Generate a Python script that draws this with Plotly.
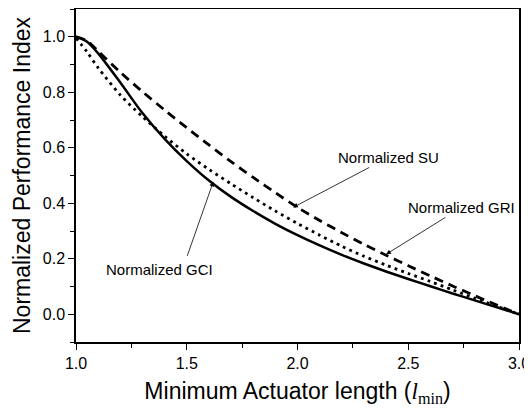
import plotly.graph_objects as go

x_vals = [1.0, 1.05, 1.1, 1.2, 1.3, 1.4, 1.5, 1.6, 1.7, 1.8, 1.9, 2.0,
          2.1, 2.2, 2.3, 2.4, 2.5, 2.6, 2.7, 2.8, 2.9, 3.0]
gci = [1.0, 0.982, 0.940, 0.835, 0.725, 0.632, 0.552, 0.482, 0.423, 0.372, 0.326, 0.285,
       0.248, 0.214, 0.183, 0.154, 0.127, 0.101, 0.075, 0.050, 0.025, 0.0]
gri = [0.995, 0.945, 0.888, 0.790, 0.712, 0.642, 0.578, 0.522, 0.470, 0.420, 0.372, 0.327,
       0.285, 0.245, 0.209, 0.177, 0.147, 0.118, 0.088, 0.058, 0.029, 0.0]
su = [1.0, 0.985, 0.948, 0.872, 0.802, 0.736, 0.672, 0.610, 0.550, 0.493, 0.438, 0.385,
      0.338, 0.294, 0.252, 0.213, 0.175, 0.138, 0.102, 0.067, 0.033, 0.0]

x_ticks = [1.0, 1.5, 2.0, 2.5, 3.0]
y_ticks = [0.0, 0.2, 0.4, 0.6, 0.8, 1.0]

fig = go.Figure()
fig.add_trace(go.Scatter(x=x_vals, y=gci, mode="lines",
                         line=dict(color="black", width=2.5, shape="spline", smoothing=0.8), name="GCI"))
fig.add_trace(go.Scatter(x=x_vals, y=gri, mode="lines",
                         line=dict(color="black", width=2.8, dash="2.8px,4.2px", shape="spline", smoothing=0.8), name="GRI"))
fig.add_trace(go.Scatter(x=x_vals, y=su, mode="lines",
                         line=dict(color="black", width=2.8, dash="9px,6px", shape="spline", smoothing=0.8), name="SU"))

lab_font = dict(family="Liberation Sans, Arial", size=15, color="black")
arrow_style = dict(showarrow=True, arrowhead=2, arrowsize=1.2, arrowwidth=0.8, arrowcolor="black")

# labels whose arrows leave the text box: (text, text x, text y, head x, head y)
attached = [
    ("Normalized SU", 2.41, 0.565, 1.98, 0.385),
    ("Normalized GRI", 2.74, 0.385, 2.40, 0.216),
]
for txt, tx, ty, hx, hy in attached:
    fig.add_annotation(x=hx, y=hy, ax=tx, ay=ty, axref="x", ayref="y", text=txt,
                       font=lab_font, **arrow_style)

# GCI label with an arrow that starts above its right part
fig.add_annotation(x=1.375, y=0.16, text="Normalized GCI", showarrow=False, font=lab_font)
fig.add_annotation(x=1.62, y=0.478, ax=1.50, ay=0.205, axref="x", ayref="y", text="",
                   **arrow_style)

axis_common = dict(showline=True, linecolor="black", linewidth=1.5, mirror=True,
                   ticks="outside", ticklen=6, tickwidth=1.2, tickcolor="black",
                   showgrid=False, zeroline=False, automargin=False,
                   tickfont=dict(family="Liberation Sans, Arial", size=16, color="black"))

x_title = ("Minimum Actuator length (<span style=\"font-family:'Liberation Serif'\">"
           "<i>l</i><sub>min</sub></span>)")

fig.update_xaxes(range=[1.0, 3.0], tickvals=x_ticks, ticktext=[f"{v:.1f}" for v in x_ticks],
                 minor=dict(ticks="outside", ticklen=4, dtick=0.25, tickcolor="black"),
                 title=dict(text=x_title,
                            font=dict(family="Liberation Sans, Arial", size=23, color="black"), standoff=12),
                 **axis_common)
fig.update_yaxes(range=[-0.1, 1.1], tickvals=y_ticks, ticktext=[f"{v:.1f}" for v in y_ticks],
                 minor=dict(ticks="outside", ticklen=4, dtick=0.1, tickcolor="black"),
                 title=dict(text="Normalized Performance Index",
                            font=dict(family="Liberation Sans, Arial", size=23, color="black"), standoff=6),
                 **axis_common)

# page body keeps a default 8px margin, so the figure is shrunk by 8px and margins offset
fig.update_layout(width=524, height=402, margin=dict(l=68, r=13, t=1, b=68),
                  plot_bgcolor="white", paper_bgcolor="white", showlegend=False)
fig.write_html("out.html")
